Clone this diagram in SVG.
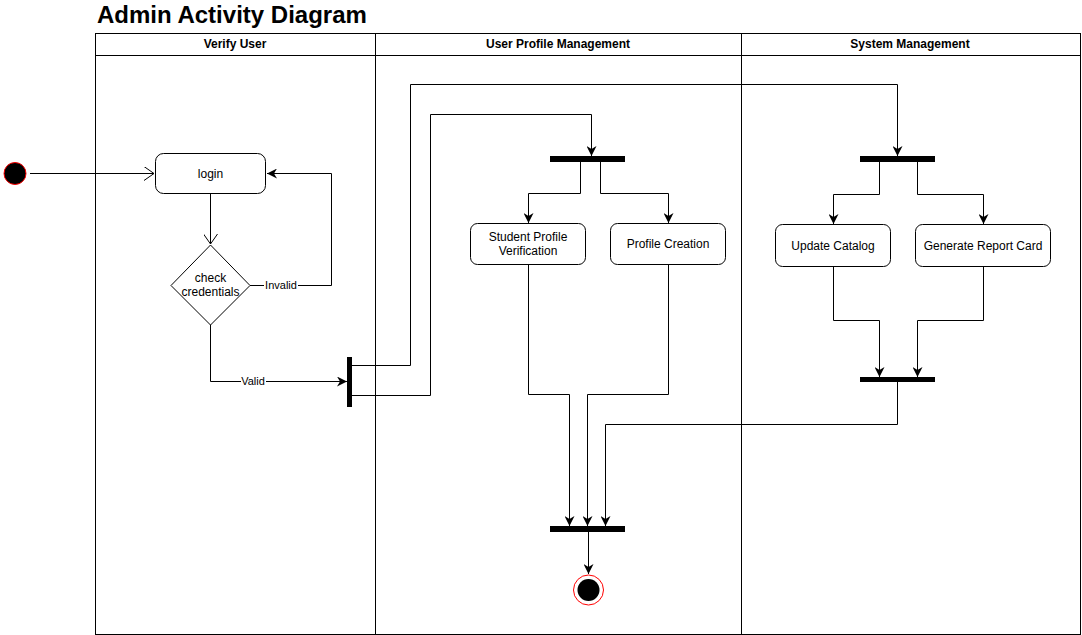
<svg xmlns="http://www.w3.org/2000/svg" width="1082" height="635" viewBox="0 0 1082 635">
<style>
.lane{fill:none;stroke:#000;stroke-width:1}
.hdr{font-family:"Liberation Sans",Arial,sans-serif;font-size:12px;font-weight:bold;text-anchor:middle;fill:#000}
.act{fill:#fff;stroke:#000;stroke-width:1}
.txt{font-family:"Liberation Sans",Arial,sans-serif;font-size:12px;text-anchor:middle;fill:#000}
.lbl{font-family:"Liberation Sans",Arial,sans-serif;font-size:11px;text-anchor:middle;fill:#000}
.bar{fill:#000}
.edge{fill:none;stroke:#000;stroke-width:1}
</style>
<defs>
<marker id="block" viewBox="0 0 10 10" refX="10" refY="5" markerWidth="10" markerHeight="10" markerUnits="userSpaceOnUse" orient="auto">
<path d="M0,0 L10,5 L0,10 L3,5 Z" fill="#000"/>
</marker>
<marker id="open" viewBox="0 0 10 14" refX="10" refY="7" markerWidth="10" markerHeight="14" markerUnits="userSpaceOnUse" orient="auto">
<path d="M0,0 L10,7 L0,14" fill="none" stroke="#000" stroke-width="1"/>
</marker>
</defs>
<rect width="1082" height="635" fill="#fff"/>
<text x="97" y="23" font-family="'Liberation Sans',Arial,sans-serif" font-size="24" font-weight="bold" fill="#000">Admin Activity Diagram</text>
<g id="pool">
<rect class="lane" x="95.5" y="33.5" width="985" height="601"/>
<line class="lane" x1="95" y1="55.5" x2="1080" y2="55.5"/>
<line class="lane" x1="375.5" y1="33" x2="375.5" y2="635" stroke-width="1.5"/>
<line class="lane" x1="741.5" y1="33" x2="741.5" y2="635"/>
<text class="hdr" x="235" y="48">Verify User</text>
<text class="hdr" x="558" y="48">User Profile Management</text>
<text class="hdr" x="910" y="48">System Management</text>
</g>
<g id="connectors">
<path class="edge" d="M30,173.5 H154" marker-end="url(#open)"/>
<path class="edge" d="M210.5,194 V244" marker-end="url(#open)"/>
<path class="edge" d="M250,285.5 H331.5 V173.5 H267" marker-end="url(#block)"/>
<path class="edge" d="M210.5,325 V381.5 H347" marker-end="url(#block)"/>
<path class="edge" d="M352,365.5 H410.5 V84.5 H897.5 V156" marker-end="url(#block)"/>
<path class="edge" d="M352,395.5 H430.5 V114.5 H591.5 V156" marker-end="url(#block)"/>
<path class="edge" d="M580.5,162 V193.5 H528.5 V223" marker-end="url(#block)"/>
<path class="edge" d="M600.5,162 V193.5 H668.5 V223" marker-end="url(#block)"/>
<path class="edge" d="M879.5,162 V194.5 H833.5 V224" marker-end="url(#block)"/>
<path class="edge" d="M917.5,162 V194.5 H983.5 V224" marker-end="url(#block)"/>
<path class="edge" d="M833.5,266 V320.5 H879.5 V377" marker-end="url(#block)"/>
<path class="edge" d="M983.5,266 V320.5 H917.5 V377" marker-end="url(#block)"/>
<path class="edge" d="M897.5,382 V424.5 H605.5 V526" marker-end="url(#block)"/>
<path class="edge" d="M528.5,264 V394.5 H569.5 V526" marker-end="url(#block)"/>
<path class="edge" d="M668.5,264 V394.5 H587.5 V526" marker-end="url(#block)"/>
<path class="edge" d="M588.5,532 V574" marker-end="url(#block)"/>
<rect x="264" y="279" width="34" height="12" fill="#fff"/>
<text class="lbl" x="281" y="289">Invalid</text>
<rect x="241" y="375" width="25" height="12" fill="#fff"/>
<text class="lbl" x="253" y="385">Valid</text>
</g>
<g id="start"><circle cx="15" cy="173.5" r="11" fill="#000" stroke="#f00" stroke-width="1"/></g>
<g id="login"><rect class="act" x="155.5" y="153.5" width="110" height="40" rx="8"/><text class="txt" x="210.5" y="178">login</text></g>
<g id="check"><path class="act" d="M210.5,245 L250,285.5 L210.5,325 L171,285.5 Z"/><text class="txt" x="210.5" y="282">check</text><text class="txt" x="210.5" y="296">credentials</text></g>
<g id="fork0"><rect class="bar" x="347" y="357" width="5" height="50"/></g>
<g id="fork1"><rect class="bar" x="550" y="156" width="75" height="6"/></g>
<g id="fork2"><rect class="bar" x="860" y="156" width="75" height="6"/></g>
<g id="spv"><rect class="act" x="470.5" y="223.5" width="115" height="41" rx="7"/><text class="txt" x="528" y="241">Student Profile</text><text class="txt" x="528" y="255">Verification</text></g>
<g id="pc"><rect class="act" x="610.5" y="223.5" width="115" height="41" rx="7"/><text class="txt" x="668" y="248">Profile Creation</text></g>
<g id="uc"><rect class="act" x="775.5" y="224.5" width="115" height="42" rx="7"/><text class="txt" x="833" y="250">Update Catalog</text></g>
<g id="grc"><rect class="act" x="915.5" y="224.5" width="135" height="42" rx="7"/><text class="txt" x="983" y="250">Generate Report Card</text></g>
<g id="join1"><rect class="bar" x="860" y="377" width="75" height="5"/></g>
<g id="join2"><rect class="bar" x="550" y="526" width="75" height="6"/></g>
<g id="end"><circle cx="588.5" cy="590" r="15" fill="#fff" stroke="#f00" stroke-width="1"/><circle cx="588.5" cy="590" r="11" fill="#000"/></g>
</svg>
